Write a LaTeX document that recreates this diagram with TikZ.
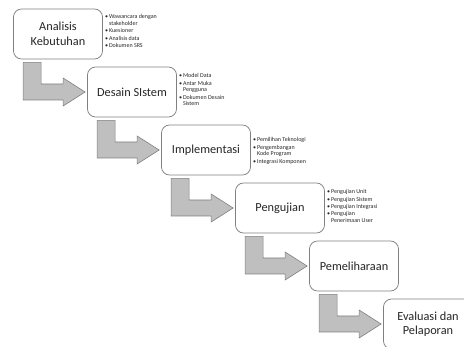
\documentclass[tikz,border=0pt]{standalone}
\usepackage{fontspec}
\setmainfont{Carlito}
\usetikzlibrary{calc}
\tikzset{%
  stage/.style = {draw=black!50, line width=0.75pt, rectangle, rounded corners=8pt,
    fill=white, minimum width=89pt, minimum height=50pt, align=center,
    text=black!85, font=\fontsize{12.3}{14.5}\selectfont},
  note/.style  = {anchor=north west, align=left, inner sep=0pt, text=black!85,
    font=\fontsize{6}{6.5}\selectfont}, % bullet list
  flow/.style  = {draw=black!50, fill=black!25, line width=0.6pt} % bent arrow
}
\newcommand{\bul}{\textbullet\,}
\newcommand{\bulgap}{\phantom{\textbullet\,}}
% bent block arrow from below stage #1 to the left side of stage #2
\newcommand{\stagearrow}[2]{%
  \draw[flow] ($(#1.south west)+(10,3)$) -- ($(#1.south west)+(28,3)$)
    -- ($(#1.south west |- #2.west)+(28,-8)$) -- ($(#2.west)+(-24,-8)$)
    -- ($(#2.west)+(-24,-14)$) -- ($(#2.west)+(-2,0)$)
    -- ($(#2.west)+(-24,14)$) -- ($(#2.west)+(-24,8)$)
    -- ($(#1.south west |- #2.west)+(10,8)$) -- cycle;}

\begin{document}
\begin{tikzpicture}[x=1pt, y=-1pt]
\clip (0,0) rectangle (464,347);
\draw
    node at(58,34)[stage,name=anal]{Analisis\\Kebutuhan}
    node at(132,92)[stage,name=desain]{Desain SIstem}
    node at(206,150)[stage,name=impl]{Implementasi}
    node at(280,208)[stage,name=uji]{Pengujian}
    node at(354,266)[stage,name=pelihara]{Pemeliharaan}
    node at(428,324)[stage,name=evaluasi]{Evaluasi dan\\Pelaporan}
;

    \node[note] (analnote) at ($(anal.north east)+(2,6)$)
      {\bul Wawancara dengan\\\bulgap stakeholder\\[0.8pt]
       \bul Kuesioner\\[0.8pt]
       \bul Analisis data\\[0.8pt]
       \bul Dokumen SRS};
    \node[note] (desainnote) at ($(desain.north east)+(2,7)$)
      {\bul Model Data\\[0.8pt]
       \bul Antar Muka\\\bulgap Pengguna\\[0.8pt]
       \bul Dokumen Desain\\\bulgap Sistem};
    \node[note] (implnote) at ($(impl.north east)+(2,13)$)
      {\bul Pemilihan Teknologi\\[0.8pt]
       \bul Pengembangan\\\bulgap Kode Program\\[0.8pt]
       \bul Integrasi Komponen};
    \node[note] (ujinote) at ($(uji.north east)+(2,7)$)
      {\bul Pengujian Unit\\[0.8pt]
       \bul Pengujian Sistem\\[0.8pt]
       \bul Pengujian Integrasi\\[0.8pt]
       \bul Pengujian\\\bulgap Penerimaan User};

    \stagearrow{anal}{desain}
    \stagearrow{desain}{impl}
    \stagearrow{impl}{uji}
    \stagearrow{uji}{pelihara}
    \stagearrow{pelihara}{evaluasi}
\end{tikzpicture}
\end{document}
